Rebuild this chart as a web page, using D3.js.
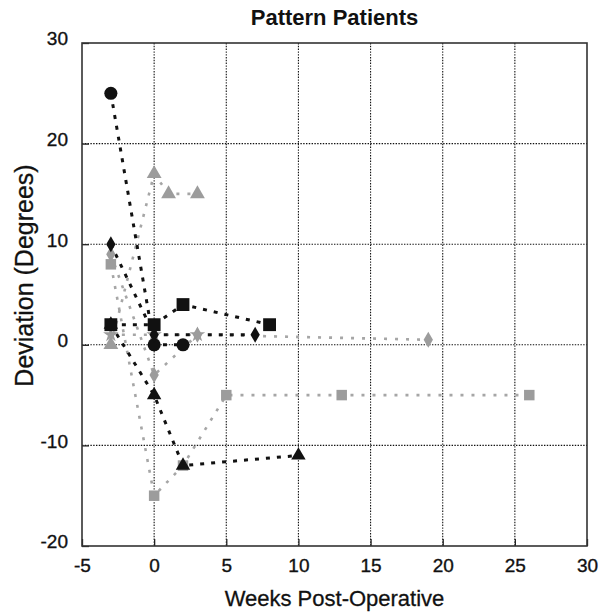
<!DOCTYPE html>
<html>
<head>
<meta charset="utf-8">
<script src="https://cdn.jsdelivr.net/npm/d3@7"></script>
<style>
  body { margin: 0; background: #fff; }
  svg { display: block; }
  text { font-family: "Liberation Sans", Arial, Helvetica, sans-serif; fill: #111; }
</style>
</head>
<body>
<svg id="chart" width="601" height="613"></svg>
<script>
// ---- data ----
const title = "Pattern Patients";
const xLabel = "Weeks Post-Operative";
const yLabel = "Deviation (Degrees)";
const xTicks = [-5, 0, 5, 10, 15, 20, 25, 30];
const yTicks = [-20, -10, 0, 10, 20, 30];

// gray patients
const grayTriangleX = [-3, 0, 1, 3];
const grayTriangleY = [0, 17, 15, 15];
const graySquareX = [-3, 0, 2, 5, 13, 26];
const graySquareY = [8, -15, -12, -5, -5, -5];
const grayDiamondX = [-3, 0, 3, 19];
const grayDiamondY = [9, -3, 1, 0.5];
const grayStarX = [-3, 0, 3];
const grayStarY = [1, 1, 1];

// black patients
const blackTriangleX = [-3, 0, 2, 10];
const blackTriangleY = [2, -5, -12, -11];
const blackCircleX = [-3, 0, 2];
const blackCircleY = [25, 0, 0];
const blackDiamondX = [-3, 0, 7];
const blackDiamondY = [10, 1, 1];
const blackSquareX = [-3, 0, 2, 8];
const blackSquareY = [2, 2, 4, 2];

const series = [
  {x: grayTriangleX, y: grayTriangleY, tone: "gray", sym: "triangle"},
  {x: graySquareX, y: graySquareY, tone: "gray", sym: "square"},
  {x: grayDiamondX, y: grayDiamondY, tone: "gray", sym: "diamond"},
  {x: grayStarX, y: grayStarY, tone: "gray", sym: "star"},
  {x: blackTriangleX, y: blackTriangleY, tone: "black", sym: "triangle"},
  {x: blackCircleX, y: blackCircleY, tone: "black", sym: "circle"},
  {x: blackDiamondX, y: blackDiamondY, tone: "black", sym: "diamond"},
  {x: blackSquareX, y: blackSquareY, tone: "black", sym: "square"}
];

// ---- layout ----
const svg = d3.select("#chart");
const pL = 82, pR = 587, pT = 43, pB = 546;
const x = d3.scaleLinear().domain([-5, 30]).range([pL, pR]);
const y = d3.scaleLinear().domain([-20, 30]).range([pB, pT]);
const fmt = d => String(d);

// grid
const grid = svg.append("g");
grid.selectAll(null).data(xTicks.slice(1, -1)).enter().append("line")
  .attr("x1", d => x(d)).attr("x2", d => x(d))
  .attr("y1", pT).attr("y2", pB)
  .attr("stroke", "#111").attr("stroke-width", 1.1).attr("stroke-dasharray", "1.4,1.4");
grid.selectAll(null).data(yTicks.slice(1, -1)).enter().append("line")
  .attr("y1", d => y(d)).attr("y2", d => y(d))
  .attr("x1", pL).attr("x2", pR)
  .attr("stroke", "#111").attr("stroke-width", 1.1).attr("stroke-dasharray", "1.4,1.4");

// axes (ticks inside)
const xAxis = d3.axisBottom(x).tickValues(xTicks).tickSize(-7).tickPadding(13).tickFormat(fmt);
const yAxis = d3.axisLeft(y).tickValues(yTicks).tickSize(-7).tickPadding(14).tickFormat(fmt);
const gx = svg.append("g").attr("transform", `translate(0,${pB})`).call(xAxis);
const gy = svg.append("g").attr("transform", `translate(${pL},0)`).call(yAxis);
[gx, gy].forEach(g => {
  g.select(".domain").remove();
  g.selectAll(".tick line").attr("stroke", "#222").attr("stroke-width", 1.3);
  g.selectAll(".tick text").attr("font-size", 19).attr("fill", "#111")
    .attr("stroke", "#111").attr("stroke-width", 0.35)
    .style("font-family", '"Liberation Sans", Arial, sans-serif');
});
gy.selectAll(".tick text").attr("dy", "0.1em");

// frame
svg.append("rect").attr("x", pL).attr("y", pT)
  .attr("width", pR - pL).attr("height", pB - pT)
  .attr("fill", "none").attr("stroke", "#333").attr("stroke-width", 1.6);

// lines
const line = d3.line().x(d => x(d[0])).y(d => y(d[1]));
const lineG = svg.append("g");
series.forEach(s => {
  const pts = s.x.map((v, i) => [v, s.y[i]]);
  lineG.append("path").datum(pts).attr("d", line)
    .attr("fill", "none")
    .attr("stroke", s.tone === "black" ? "#111" : "#a6a6a6")
    .attr("stroke-width", s.tone === "black" ? 3 : 2.6)
    .attr("stroke-dasharray", s.tone === "black" ? "4,7" : "3,8");
});

// markers
const symMap = {
  circle: [d3.symbolCircle, 135],
  square: [d3.symbolSquare, 165],
  diamond: [d3.symbolDiamond, 75],
  triangle: [d3.symbolTriangle, 90],
  star: [d3.symbolStar, 75]
};
const markG = svg.append("g");
series.forEach(s => {
  const pts = s.x.map((v, i) => [v, s.y[i]]);
  const [type, size] = symMap[s.sym];
  const sz = s.tone === "gray" ? (s.sym === "square" ? 110 : s.sym === "triangle" ? 95 : size) : size;
  markG.selectAll(null).data(pts).enter().append("path")
    .attr("d", d3.symbol().type(type).size(sz))
    .attr("transform", d => `translate(${x(d[0])},${y(d[1])})`)
    .attr("fill", s.tone === "black" ? "#111" : "#9c9c9c");
});

// title & labels
svg.append("text").attr("x", (pL + pR) / 2).attr("y", 25)
  .attr("text-anchor", "middle").attr("font-size", 22).attr("font-weight", "bold")
  .text(title);
svg.append("text").attr("x", (pL + pR) / 2).attr("y", 606)
  .attr("text-anchor", "middle").attr("font-size", 22)
  .attr("stroke", "#111").attr("stroke-width", 0.3)
  .text(xLabel);
svg.append("text").attr("transform", `translate(33,${(pT + pB) / 2 - 19}) rotate(-90)`)
  .attr("text-anchor", "middle").attr("font-size", 25)
  .attr("stroke", "#111").attr("stroke-width", 0.3)
  .text(yLabel);
</script>
</body>
</html>
